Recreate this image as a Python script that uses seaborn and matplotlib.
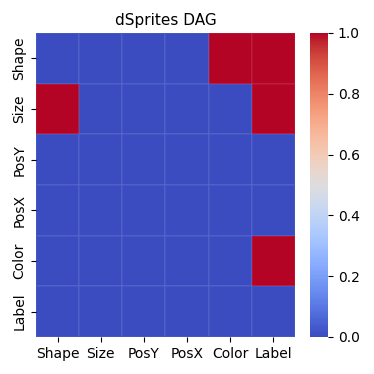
import numpy as np
import pandas as pd
import matplotlib
matplotlib.use("Agg")
import matplotlib.pyplot as plt
import seaborn as sns

# Variables du graphe dSprites
labels = ["Shape", "Size", "PosY", "PosX", "Color", "Label"]

# Matrice d'adjacence (ligne -> colonne)
row_shape = [0, 0, 0, 0, 1, 1]
row_size = [1, 0, 0, 0, 0, 1]
row_posy = [0, 0, 0, 0, 0, 0]
row_posx = [0, 0, 0, 0, 0, 0]
row_color = [0, 0, 0, 0, 0, 1]
row_label = [0, 0, 0, 0, 0, 0]

adj = pd.DataFrame(
    [row_shape, row_size, row_posy, row_posx, row_color, row_label],
    index=labels, columns=labels,
)

fig = plt.figure(figsize=(3.74, 3.74), dpi=100)
ax = fig.add_axes([0.096, 0.099, 0.693, 0.813])
cax = fig.add_axes([0.829, 0.099, 0.048, 0.813])

sns.heatmap(adj, cmap="coolwarm", vmin=0, vmax=1, ax=ax, cbar_ax=cax,
            linewidths=0.3, linecolor=(1, 1, 1, 0.06))
ax.set_title("dSprites DAG", fontsize=11)
ax.set_yticklabels(labels, rotation=90, va="center")
ax.set_xticklabels(labels, rotation=0)
ax.tick_params(labelsize=10)
cax.tick_params(labelsize=10)

fig.savefig("out.png", dpi=100)
